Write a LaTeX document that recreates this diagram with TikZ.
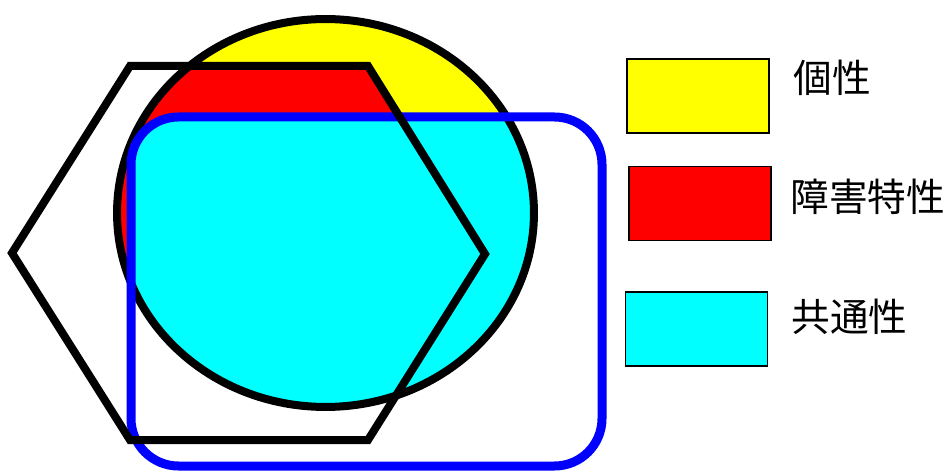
\documentclass[tikz,border=0pt]{standalone}
\usepackage{fontspec}
\newfontfamily\cjk{Noto Sans CJK JP}
\usetikzlibrary{positioning}
\definecolor{KeyYellow}{RGB}{255,255,0}
\definecolor{KeyRed}{RGB}{255,0,0}
\definecolor{KeyCyan}{RGB}{0,255,255}
\definecolor{RimBlue}{RGB}{0,0,255}

\begin{document}
\begin{tikzpicture}[x=0.02cm, y=-0.02cm,
    outline/.style={line width=0.16cm, line join=miter},
    key/.style={rectangle, draw=black, line width=0.6pt, minimum width=2.84cm,
                minimum height=1.48cm, inner sep=0pt},
    lbl/.style={anchor=west, inner sep=0pt, font=\cjk\fontsize{22}{22}\selectfont}
  ]
  \useasboundingbox (0,0) rectangle (952,472);

  % hexagon corners
  \coordinate (h1) at (12,253);
  \coordinate (h2) at (130,66);
  \coordinate (h3) at (368,66);
  \coordinate (h4) at (485,254);
  \coordinate (h5) at (368,440);
  \coordinate (h6) at (130,440);
  \coordinate (oc) at (325.5,213);

  % coloured areas inside the circle
  \fill[KeyYellow] (oc) ellipse [x radius=4.17cm, y radius=3.88cm];
  \begin{scope}
    \clip (oc) ellipse [x radius=4.17cm, y radius=3.88cm];
    \fill[KeyRed] (h1) -- (h2) -- (h3) -- (h4) -- (h5) -- (h6) -- cycle;
    \fill[KeyCyan, rounded corners=0.95cm] (131,117) rectangle (602,466);
  \end{scope}

  % outlines
  \draw[outline] (oc) ellipse [x radius=4.17cm, y radius=3.88cm];
  \draw[outline, RimBlue, line width=0.18cm, rounded corners=0.95cm]
    (131,117) rectangle (602,466);
  \draw[outline] (h1) -- (h2) -- (h3) -- (h4) -- (h5) -- (h6) -- cycle;

  % legend
  \node[key, fill=KeyYellow] (ky) at (698,96) {};
  \node[key, fill=KeyRed] (kr) at (700,203.5) {};
  \node[key, fill=KeyCyan] (kc) at (696.5,329) {};
  \node[lbl] (ly) at (793,78) {個性};
  \node[lbl] (lr) at (790,197) {障害特性};
  \node[lbl] (lc) at (791,317) {共通性};
\end{tikzpicture}
\end{document}
